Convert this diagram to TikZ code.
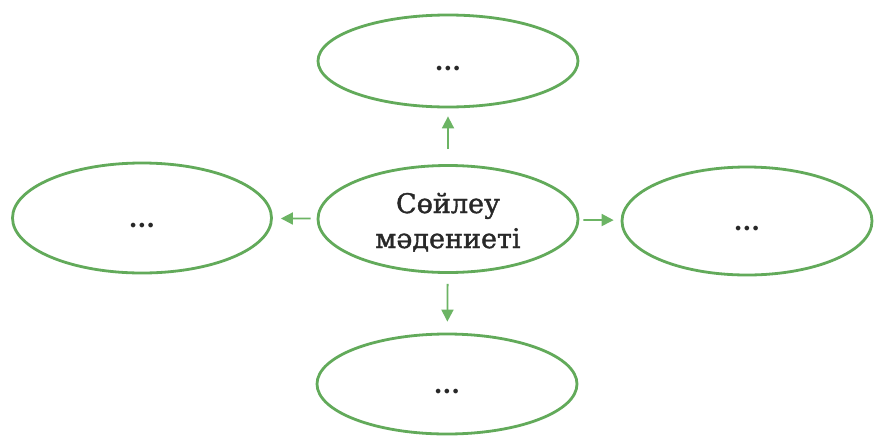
\documentclass[tikz,border=0pt]{standalone}
\usepackage{fontspec}
\setmainfont{DejaVu Serif}
\newfontfamily\semibold[FakeBold=1.4]{DejaVu Serif}
\usetikzlibrary{shapes.geometric,arrows.meta}
\definecolor{ovalgreen}{RGB}{98,170,90}
\definecolor{arrowgreen}{RGB}{108,180,100}
\definecolor{txt}{RGB}{40,40,40}
\tikzset{
  oval/.style={ellipse,draw=ovalgreen,line width=2.8pt,fill=white,inner sep=0pt,text=txt,font=\fontsize{25}{30}\selectfont\bfseries},
  conn/.style={draw=arrowgreen,line width=1.8pt,-{Triangle[length=12pt,width=12pt]}}
}
\newcommand{\dotsdown}{\smash{\raisebox{-9pt}{...}}}
\begin{document}
\begin{tikzpicture}[x=1pt,y=-1pt]
\useasboundingbox (0,0) rectangle (875,437);
\fill[white] (0,0) rectangle (875,437);
\node[oval,minimum width=260pt,minimum height=107pt,font=\fontsize{27}{35}\selectfont\semibold] (c) at (448,219) {\smash{\raisebox{-29pt}{\begin{tabular}[b]{@{}c@{}}Сөйлеу\\мәдениеті\end{tabular}}}};
\node[oval,minimum width=260pt,minimum height=92pt] (t) at (448,61) {\dotsdown};
\node[oval,minimum width=259pt,minimum height=110pt] (l) at (142,218) {\dotsdown};
\node[oval,minimum width=250pt,minimum height=108pt] (r) at (747,221) {\dotsdown};
\node[oval,minimum width=260pt,minimum height=100pt] (b) at (447,384) {\dotsdown};
\draw[conn,shorten <=15pt,shorten >=8pt] (c) -- (t);
\draw[conn,shorten <=10pt,shorten >=11pt] (c) -- (b);
\draw[conn,shorten <=6pt,shorten >=8pt] (c) -- (l);
\draw[conn,shorten <=4pt,shorten >=7pt] (c) -- (r);
\end{tikzpicture}
\end{document}
